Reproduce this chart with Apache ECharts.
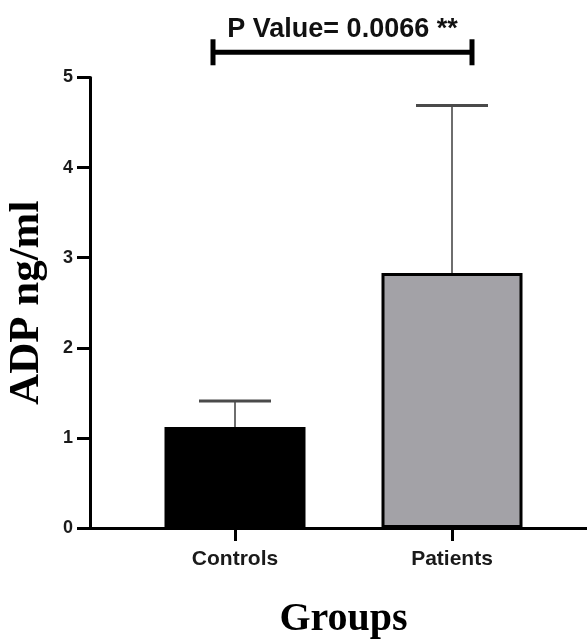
<!DOCTYPE html>
<html>
<head>
<meta charset="utf-8">
<style>html,body{margin:0;padding:0;background:#fff;}#chart{width:587px;height:639px;}</style>
<script src="https://cdn.jsdelivr.net/npm/echarts@6/dist/echarts.min.js"></script>
</head>
<body>
<div id="chart"></div>
<script>
const categories = ['Controls', 'Patients'];
const means = [1.12, 2.83];
const upperErrors = [1.41, 4.69];
const barColors = ['#000000', '#a3a2a7'];
const yTicks = [0, 1, 2, 3, 4, 5];
const yAxisTitle = 'ADP ng/ml';
const xAxisTitle = 'Groups';
const pValueText = 'P Value= 0.0066 **';
const bracketLevel = 5.28;

const chart = echarts.init(document.getElementById('chart'), null, {renderer: 'canvas'});

const option = {
  animation: false,
  backgroundColor: '#ffffff',
  grid: [
    {left: 90, right: 0, top: 77.5, bottom: 111, containLabel: false, outerBoundsMode: 'none'},
    {left: 126.5, right: 26.5, top: 77.5, bottom: 111, containLabel: false, outerBoundsMode: 'none'}
  ],
  xAxis: [
    {gridIndex: 0, type: 'value', min: 0, max: 1,
     axisLine: {show: true, lineStyle: {color: '#000', width: 3}},
     axisTick: {show: false}, axisLabel: {show: false}, splitLine: {show: false}},
    {gridIndex: 1, type: 'category', data: categories,
     axisLine: {show: false},
     axisTick: {show: true, alignWithLabel: true, length: 13, lineStyle: {color: '#000', width: 3}},
     axisLabel: {color: '#1a1a1a', fontFamily: 'Liberation Sans', fontWeight: 'bold', fontSize: 21, margin: 21},
     splitLine: {show: false},
     name: xAxisTitle, nameLocation: 'middle', nameGap: 72,
     nameTextStyle: {fontFamily: 'Liberation Serif', fontWeight: 'bold', fontSize: 40, color: '#000'}}
  ],
  yAxis: [
    {gridIndex: 0, type: 'value', min: yTicks[0], max: yTicks[yTicks.length - 1], interval: 1,
     axisLine: {show: true, lineStyle: {color: '#000', width: 3}},
     axisTick: {show: true, length: 13, lineStyle: {color: '#000', width: 3}},
     axisLabel: {color: '#1a1a1a', fontFamily: 'Liberation Sans', fontWeight: 'bold', fontSize: 18, margin: 17},
     splitLine: {show: false},
     name: yAxisTitle, nameLocation: 'middle', nameGap: 42, nameRotate: 90,
     nameTextStyle: {fontFamily: 'Liberation Serif', fontWeight: 'bold', fontSize: 43, color: '#000'}},
    {gridIndex: 1, type: 'value', min: yTicks[0], max: yTicks[yTicks.length - 1], interval: 1, show: false}
  ],
  series: [
    {
      type: 'bar', xAxisIndex: 1, yAxisIndex: 1, barWidth: 141,
      data: means.map((v, i) => ({value: v, itemStyle: {color: barColors[i], borderColor: '#000', borderWidth: 3}})),
      z: 3
    },
    {
      type: 'custom', xAxisIndex: 1, yAxisIndex: 1, z: 2,
      data: means.map((m, i) => [i, m, upperErrors[i]]),
      renderItem: function (params, api) {
        const base = api.coord([api.value(0), api.value(1)]);
        const top = api.coord([api.value(0), api.value(2)]);
        const half = 36;
        return {
          type: 'group',
          children: [
            {type: 'line', shape: {x1: top[0], y1: base[1], x2: top[0], y2: top[1]}, style: {stroke: '#6e6e6e', lineWidth: 2}},
            {type: 'line', shape: {x1: top[0] - half, y1: top[1], x2: top[0] + half, y2: top[1]}, style: {stroke: '#4a4a4a', lineWidth: 3}}
          ]
        };
      }
    },
    {
      type: 'custom', xAxisIndex: 1, yAxisIndex: 1, z: 5, clip: false,
      data: [[0, 1, bracketLevel]],
      renderItem: function (params, api) {
        const a = api.coord([api.value(0), api.value(2)]);
        const b = api.coord([api.value(1), api.value(2)]);
        const x1 = a[0] - 22, x2 = b[0] + 20, y = a[1];
        return {
          type: 'group',
          children: [
            {type: 'line', shape: {x1: x1, y1: y, x2: x2, y2: y}, style: {stroke: '#000', lineWidth: 5}},
            {type: 'line', shape: {x1: x1, y1: y - 13, x2: x1, y2: y + 13}, style: {stroke: '#000', lineWidth: 5}},
            {type: 'line', shape: {x1: x2, y1: y - 13, x2: x2, y2: y + 13}, style: {stroke: '#000', lineWidth: 5}},
            {type: 'text', style: {x: (x1 + x2) / 2, y: y - 9, text: pValueText, textAlign: 'center', textVerticalAlign: 'bottom',
              font: 'bold 27px "Liberation Sans"', fill: '#111'}}
          ]
        };
      }
    }
  ]
};
chart.setOption(option);
</script>
</body>
</html>
